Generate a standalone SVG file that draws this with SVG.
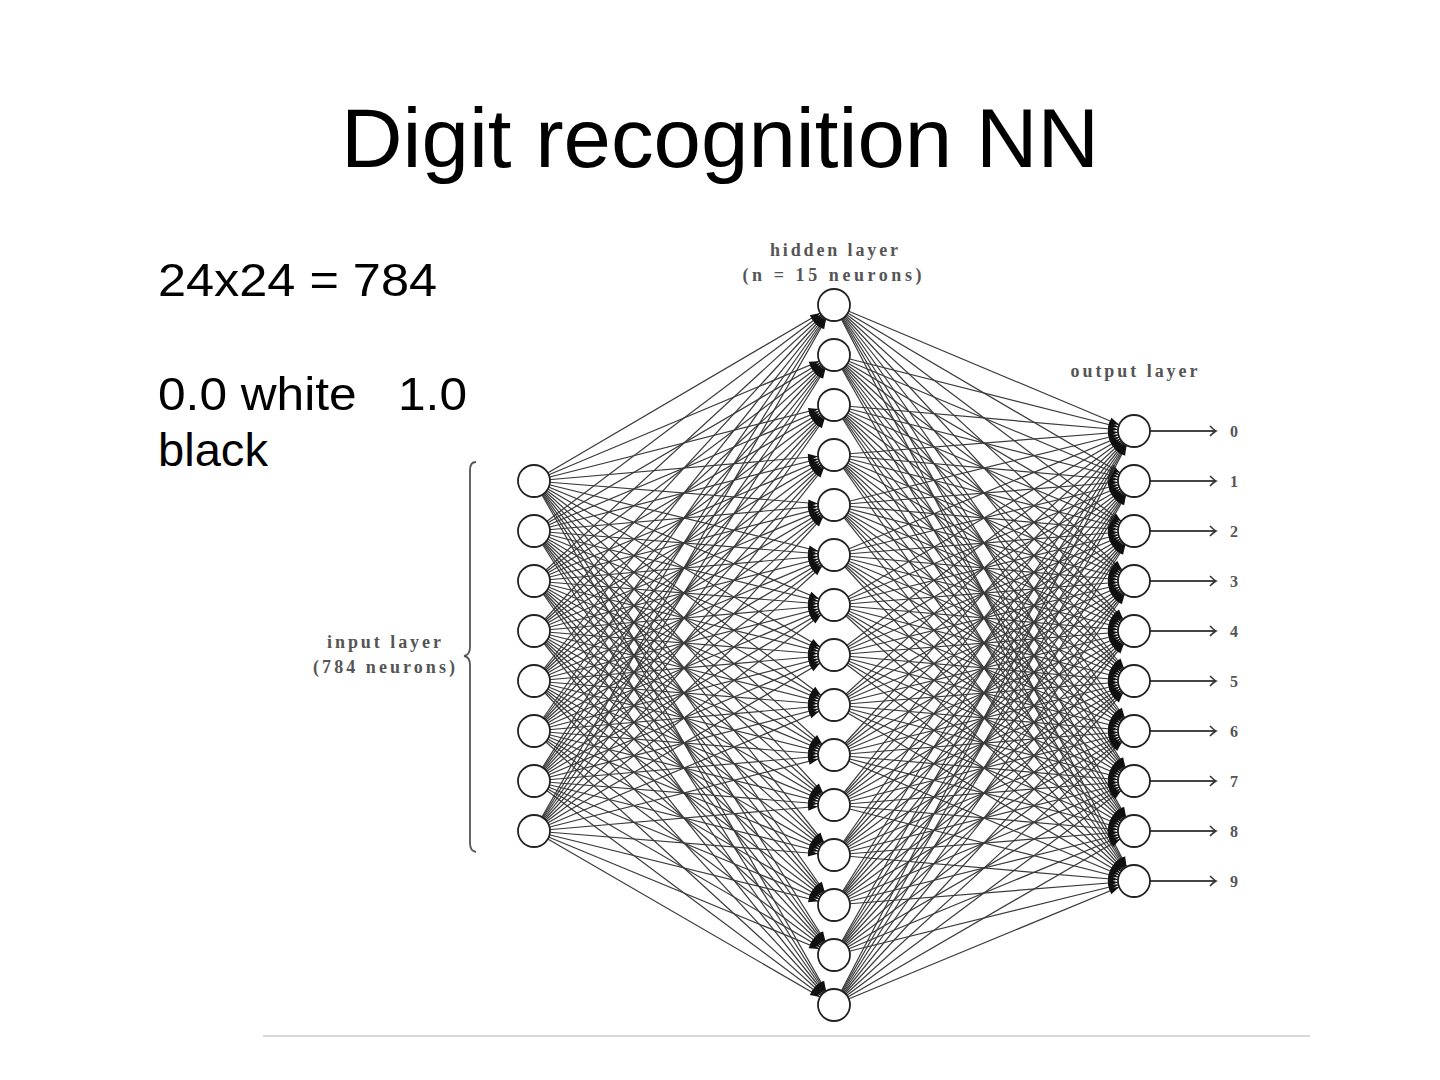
<svg xmlns="http://www.w3.org/2000/svg" width="1440" height="1080" viewBox="0 0 1440 1080">
<style>
.t{font-family:"Liberation Sans",Arial,sans-serif;fill:#000}
.s{font-family:"Liberation Serif","DejaVu Serif",serif;fill:#555;font-size:18px;font-weight:bold;text-anchor:middle}
.n{fill:#fff;stroke:#222;stroke-width:1.8}
.c line{stroke:#3a3a3a;stroke-width:1.2;marker-end:url(#a)}
.o line{stroke:#444;stroke-width:1.8;marker-end:url(#b)}
</style>
<defs>
<marker id="a" markerUnits="userSpaceOnUse" viewBox="0 -4 27 8" markerWidth="27" markerHeight="8" refX="26" refY="0" orient="auto" overflow="visible"><path d="M0,-3.5 L10,0 L0,3.5 Z" fill="#111"/></marker>
<marker id="b" markerUnits="userSpaceOnUse" viewBox="-8 -5 10 10" markerWidth="10" markerHeight="10" refX="0" refY="0" orient="auto" overflow="visible"><path d="M-6,-5 Q-2,-1 0,0 Q-2,1 -6,5" fill="none" stroke="#333" stroke-width="1.6"/></marker>
</defs>
<rect width="1440" height="1080" fill="#fff"/>
<text class="t" x="720" y="167" font-size="84" text-anchor="middle" textLength="758" lengthAdjust="spacingAndGlyphs">Digit recognition NN</text>
<text class="t" x="158" y="296" font-size="47" textLength="279" lengthAdjust="spacingAndGlyphs">24x24 = 784</text>
<text class="t" x="158" y="410" font-size="47" xml:space="preserve" textLength="309" lengthAdjust="spacingAndGlyphs">0.0 white   1.0</text>
<text class="t" x="158" y="466" font-size="47" textLength="110" lengthAdjust="spacingAndGlyphs">black</text>
<text class="s" x="834" y="256" textLength="128" lengthAdjust="spacing">hidden layer</text>
<text class="s" x="832" y="281" textLength="179" lengthAdjust="spacing">(n = 15 neurons)</text>
<text class="s" x="1134" y="377" textLength="127" lengthAdjust="spacing">output layer</text>
<text class="s" x="384" y="648" textLength="114" lengthAdjust="spacing">input layer</text>
<text class="s" x="384" y="673" textLength="142" lengthAdjust="spacing">(784 neurons)</text>
<path d="M476,462 Q470,462 470,470 L470,647 Q470,655 464,656 Q470,657 470,665 L470,843 Q470,851 476,852" fill="none" stroke="#555" stroke-width="1.8"/>
<line x1="263" y1="1036" x2="1310" y2="1036" stroke="#ccc" stroke-width="1.5"/>
<g id="connectors" class="c">
<line x1="534" y1="481" x2="834" y2="305"/><line x1="534" y1="481" x2="834" y2="355"/><line x1="534" y1="481" x2="834" y2="405"/><line x1="534" y1="481" x2="834" y2="455"/><line x1="534" y1="481" x2="834" y2="505"/><line x1="534" y1="481" x2="834" y2="555"/><line x1="534" y1="481" x2="834" y2="605"/><line x1="534" y1="481" x2="834" y2="655"/><line x1="534" y1="481" x2="834" y2="705"/><line x1="534" y1="481" x2="834" y2="755"/><line x1="534" y1="481" x2="834" y2="805"/><line x1="534" y1="481" x2="834" y2="855"/><line x1="534" y1="481" x2="834" y2="905"/><line x1="534" y1="481" x2="834" y2="955"/><line x1="534" y1="481" x2="834" y2="1005"/>
<line x1="534" y1="531" x2="834" y2="305"/><line x1="534" y1="531" x2="834" y2="355"/><line x1="534" y1="531" x2="834" y2="405"/><line x1="534" y1="531" x2="834" y2="455"/><line x1="534" y1="531" x2="834" y2="505"/><line x1="534" y1="531" x2="834" y2="555"/><line x1="534" y1="531" x2="834" y2="605"/><line x1="534" y1="531" x2="834" y2="655"/><line x1="534" y1="531" x2="834" y2="705"/><line x1="534" y1="531" x2="834" y2="755"/><line x1="534" y1="531" x2="834" y2="805"/><line x1="534" y1="531" x2="834" y2="855"/><line x1="534" y1="531" x2="834" y2="905"/><line x1="534" y1="531" x2="834" y2="955"/><line x1="534" y1="531" x2="834" y2="1005"/>
<line x1="534" y1="581" x2="834" y2="305"/><line x1="534" y1="581" x2="834" y2="355"/><line x1="534" y1="581" x2="834" y2="405"/><line x1="534" y1="581" x2="834" y2="455"/><line x1="534" y1="581" x2="834" y2="505"/><line x1="534" y1="581" x2="834" y2="555"/><line x1="534" y1="581" x2="834" y2="605"/><line x1="534" y1="581" x2="834" y2="655"/><line x1="534" y1="581" x2="834" y2="705"/><line x1="534" y1="581" x2="834" y2="755"/><line x1="534" y1="581" x2="834" y2="805"/><line x1="534" y1="581" x2="834" y2="855"/><line x1="534" y1="581" x2="834" y2="905"/><line x1="534" y1="581" x2="834" y2="955"/><line x1="534" y1="581" x2="834" y2="1005"/>
<line x1="534" y1="631" x2="834" y2="305"/><line x1="534" y1="631" x2="834" y2="355"/><line x1="534" y1="631" x2="834" y2="405"/><line x1="534" y1="631" x2="834" y2="455"/><line x1="534" y1="631" x2="834" y2="505"/><line x1="534" y1="631" x2="834" y2="555"/><line x1="534" y1="631" x2="834" y2="605"/><line x1="534" y1="631" x2="834" y2="655"/><line x1="534" y1="631" x2="834" y2="705"/><line x1="534" y1="631" x2="834" y2="755"/><line x1="534" y1="631" x2="834" y2="805"/><line x1="534" y1="631" x2="834" y2="855"/><line x1="534" y1="631" x2="834" y2="905"/><line x1="534" y1="631" x2="834" y2="955"/><line x1="534" y1="631" x2="834" y2="1005"/>
<line x1="534" y1="681" x2="834" y2="305"/><line x1="534" y1="681" x2="834" y2="355"/><line x1="534" y1="681" x2="834" y2="405"/><line x1="534" y1="681" x2="834" y2="455"/><line x1="534" y1="681" x2="834" y2="505"/><line x1="534" y1="681" x2="834" y2="555"/><line x1="534" y1="681" x2="834" y2="605"/><line x1="534" y1="681" x2="834" y2="655"/><line x1="534" y1="681" x2="834" y2="705"/><line x1="534" y1="681" x2="834" y2="755"/><line x1="534" y1="681" x2="834" y2="805"/><line x1="534" y1="681" x2="834" y2="855"/><line x1="534" y1="681" x2="834" y2="905"/><line x1="534" y1="681" x2="834" y2="955"/><line x1="534" y1="681" x2="834" y2="1005"/>
<line x1="534" y1="731" x2="834" y2="305"/><line x1="534" y1="731" x2="834" y2="355"/><line x1="534" y1="731" x2="834" y2="405"/><line x1="534" y1="731" x2="834" y2="455"/><line x1="534" y1="731" x2="834" y2="505"/><line x1="534" y1="731" x2="834" y2="555"/><line x1="534" y1="731" x2="834" y2="605"/><line x1="534" y1="731" x2="834" y2="655"/><line x1="534" y1="731" x2="834" y2="705"/><line x1="534" y1="731" x2="834" y2="755"/><line x1="534" y1="731" x2="834" y2="805"/><line x1="534" y1="731" x2="834" y2="855"/><line x1="534" y1="731" x2="834" y2="905"/><line x1="534" y1="731" x2="834" y2="955"/><line x1="534" y1="731" x2="834" y2="1005"/>
<line x1="534" y1="781" x2="834" y2="305"/><line x1="534" y1="781" x2="834" y2="355"/><line x1="534" y1="781" x2="834" y2="405"/><line x1="534" y1="781" x2="834" y2="455"/><line x1="534" y1="781" x2="834" y2="505"/><line x1="534" y1="781" x2="834" y2="555"/><line x1="534" y1="781" x2="834" y2="605"/><line x1="534" y1="781" x2="834" y2="655"/><line x1="534" y1="781" x2="834" y2="705"/><line x1="534" y1="781" x2="834" y2="755"/><line x1="534" y1="781" x2="834" y2="805"/><line x1="534" y1="781" x2="834" y2="855"/><line x1="534" y1="781" x2="834" y2="905"/><line x1="534" y1="781" x2="834" y2="955"/><line x1="534" y1="781" x2="834" y2="1005"/>
<line x1="534" y1="831" x2="834" y2="305"/><line x1="534" y1="831" x2="834" y2="355"/><line x1="534" y1="831" x2="834" y2="405"/><line x1="534" y1="831" x2="834" y2="455"/><line x1="534" y1="831" x2="834" y2="505"/><line x1="534" y1="831" x2="834" y2="555"/><line x1="534" y1="831" x2="834" y2="605"/><line x1="534" y1="831" x2="834" y2="655"/><line x1="534" y1="831" x2="834" y2="705"/><line x1="534" y1="831" x2="834" y2="755"/><line x1="534" y1="831" x2="834" y2="805"/><line x1="534" y1="831" x2="834" y2="855"/><line x1="534" y1="831" x2="834" y2="905"/><line x1="534" y1="831" x2="834" y2="955"/><line x1="534" y1="831" x2="834" y2="1005"/>
<line x1="834" y1="305" x2="1134" y2="431"/><line x1="834" y1="305" x2="1134" y2="481"/><line x1="834" y1="305" x2="1134" y2="531"/><line x1="834" y1="305" x2="1134" y2="581"/><line x1="834" y1="305" x2="1134" y2="631"/><line x1="834" y1="305" x2="1134" y2="681"/><line x1="834" y1="305" x2="1134" y2="731"/><line x1="834" y1="305" x2="1134" y2="781"/><line x1="834" y1="305" x2="1134" y2="831"/><line x1="834" y1="305" x2="1134" y2="881"/>
<line x1="834" y1="355" x2="1134" y2="431"/><line x1="834" y1="355" x2="1134" y2="481"/><line x1="834" y1="355" x2="1134" y2="531"/><line x1="834" y1="355" x2="1134" y2="581"/><line x1="834" y1="355" x2="1134" y2="631"/><line x1="834" y1="355" x2="1134" y2="681"/><line x1="834" y1="355" x2="1134" y2="731"/><line x1="834" y1="355" x2="1134" y2="781"/><line x1="834" y1="355" x2="1134" y2="831"/><line x1="834" y1="355" x2="1134" y2="881"/>
<line x1="834" y1="405" x2="1134" y2="431"/><line x1="834" y1="405" x2="1134" y2="481"/><line x1="834" y1="405" x2="1134" y2="531"/><line x1="834" y1="405" x2="1134" y2="581"/><line x1="834" y1="405" x2="1134" y2="631"/><line x1="834" y1="405" x2="1134" y2="681"/><line x1="834" y1="405" x2="1134" y2="731"/><line x1="834" y1="405" x2="1134" y2="781"/><line x1="834" y1="405" x2="1134" y2="831"/><line x1="834" y1="405" x2="1134" y2="881"/>
<line x1="834" y1="455" x2="1134" y2="431"/><line x1="834" y1="455" x2="1134" y2="481"/><line x1="834" y1="455" x2="1134" y2="531"/><line x1="834" y1="455" x2="1134" y2="581"/><line x1="834" y1="455" x2="1134" y2="631"/><line x1="834" y1="455" x2="1134" y2="681"/><line x1="834" y1="455" x2="1134" y2="731"/><line x1="834" y1="455" x2="1134" y2="781"/><line x1="834" y1="455" x2="1134" y2="831"/><line x1="834" y1="455" x2="1134" y2="881"/>
<line x1="834" y1="505" x2="1134" y2="431"/><line x1="834" y1="505" x2="1134" y2="481"/><line x1="834" y1="505" x2="1134" y2="531"/><line x1="834" y1="505" x2="1134" y2="581"/><line x1="834" y1="505" x2="1134" y2="631"/><line x1="834" y1="505" x2="1134" y2="681"/><line x1="834" y1="505" x2="1134" y2="731"/><line x1="834" y1="505" x2="1134" y2="781"/><line x1="834" y1="505" x2="1134" y2="831"/><line x1="834" y1="505" x2="1134" y2="881"/>
<line x1="834" y1="555" x2="1134" y2="431"/><line x1="834" y1="555" x2="1134" y2="481"/><line x1="834" y1="555" x2="1134" y2="531"/><line x1="834" y1="555" x2="1134" y2="581"/><line x1="834" y1="555" x2="1134" y2="631"/><line x1="834" y1="555" x2="1134" y2="681"/><line x1="834" y1="555" x2="1134" y2="731"/><line x1="834" y1="555" x2="1134" y2="781"/><line x1="834" y1="555" x2="1134" y2="831"/><line x1="834" y1="555" x2="1134" y2="881"/>
<line x1="834" y1="605" x2="1134" y2="431"/><line x1="834" y1="605" x2="1134" y2="481"/><line x1="834" y1="605" x2="1134" y2="531"/><line x1="834" y1="605" x2="1134" y2="581"/><line x1="834" y1="605" x2="1134" y2="631"/><line x1="834" y1="605" x2="1134" y2="681"/><line x1="834" y1="605" x2="1134" y2="731"/><line x1="834" y1="605" x2="1134" y2="781"/><line x1="834" y1="605" x2="1134" y2="831"/><line x1="834" y1="605" x2="1134" y2="881"/>
<line x1="834" y1="655" x2="1134" y2="431"/><line x1="834" y1="655" x2="1134" y2="481"/><line x1="834" y1="655" x2="1134" y2="531"/><line x1="834" y1="655" x2="1134" y2="581"/><line x1="834" y1="655" x2="1134" y2="631"/><line x1="834" y1="655" x2="1134" y2="681"/><line x1="834" y1="655" x2="1134" y2="731"/><line x1="834" y1="655" x2="1134" y2="781"/><line x1="834" y1="655" x2="1134" y2="831"/><line x1="834" y1="655" x2="1134" y2="881"/>
<line x1="834" y1="705" x2="1134" y2="431"/><line x1="834" y1="705" x2="1134" y2="481"/><line x1="834" y1="705" x2="1134" y2="531"/><line x1="834" y1="705" x2="1134" y2="581"/><line x1="834" y1="705" x2="1134" y2="631"/><line x1="834" y1="705" x2="1134" y2="681"/><line x1="834" y1="705" x2="1134" y2="731"/><line x1="834" y1="705" x2="1134" y2="781"/><line x1="834" y1="705" x2="1134" y2="831"/><line x1="834" y1="705" x2="1134" y2="881"/>
<line x1="834" y1="755" x2="1134" y2="431"/><line x1="834" y1="755" x2="1134" y2="481"/><line x1="834" y1="755" x2="1134" y2="531"/><line x1="834" y1="755" x2="1134" y2="581"/><line x1="834" y1="755" x2="1134" y2="631"/><line x1="834" y1="755" x2="1134" y2="681"/><line x1="834" y1="755" x2="1134" y2="731"/><line x1="834" y1="755" x2="1134" y2="781"/><line x1="834" y1="755" x2="1134" y2="831"/><line x1="834" y1="755" x2="1134" y2="881"/>
<line x1="834" y1="805" x2="1134" y2="431"/><line x1="834" y1="805" x2="1134" y2="481"/><line x1="834" y1="805" x2="1134" y2="531"/><line x1="834" y1="805" x2="1134" y2="581"/><line x1="834" y1="805" x2="1134" y2="631"/><line x1="834" y1="805" x2="1134" y2="681"/><line x1="834" y1="805" x2="1134" y2="731"/><line x1="834" y1="805" x2="1134" y2="781"/><line x1="834" y1="805" x2="1134" y2="831"/><line x1="834" y1="805" x2="1134" y2="881"/>
<line x1="834" y1="855" x2="1134" y2="431"/><line x1="834" y1="855" x2="1134" y2="481"/><line x1="834" y1="855" x2="1134" y2="531"/><line x1="834" y1="855" x2="1134" y2="581"/><line x1="834" y1="855" x2="1134" y2="631"/><line x1="834" y1="855" x2="1134" y2="681"/><line x1="834" y1="855" x2="1134" y2="731"/><line x1="834" y1="855" x2="1134" y2="781"/><line x1="834" y1="855" x2="1134" y2="831"/><line x1="834" y1="855" x2="1134" y2="881"/>
<line x1="834" y1="905" x2="1134" y2="431"/><line x1="834" y1="905" x2="1134" y2="481"/><line x1="834" y1="905" x2="1134" y2="531"/><line x1="834" y1="905" x2="1134" y2="581"/><line x1="834" y1="905" x2="1134" y2="631"/><line x1="834" y1="905" x2="1134" y2="681"/><line x1="834" y1="905" x2="1134" y2="731"/><line x1="834" y1="905" x2="1134" y2="781"/><line x1="834" y1="905" x2="1134" y2="831"/><line x1="834" y1="905" x2="1134" y2="881"/>
<line x1="834" y1="955" x2="1134" y2="431"/><line x1="834" y1="955" x2="1134" y2="481"/><line x1="834" y1="955" x2="1134" y2="531"/><line x1="834" y1="955" x2="1134" y2="581"/><line x1="834" y1="955" x2="1134" y2="631"/><line x1="834" y1="955" x2="1134" y2="681"/><line x1="834" y1="955" x2="1134" y2="731"/><line x1="834" y1="955" x2="1134" y2="781"/><line x1="834" y1="955" x2="1134" y2="831"/><line x1="834" y1="955" x2="1134" y2="881"/>
<line x1="834" y1="1005" x2="1134" y2="431"/><line x1="834" y1="1005" x2="1134" y2="481"/><line x1="834" y1="1005" x2="1134" y2="531"/><line x1="834" y1="1005" x2="1134" y2="581"/><line x1="834" y1="1005" x2="1134" y2="631"/><line x1="834" y1="1005" x2="1134" y2="681"/><line x1="834" y1="1005" x2="1134" y2="731"/><line x1="834" y1="1005" x2="1134" y2="781"/><line x1="834" y1="1005" x2="1134" y2="831"/><line x1="834" y1="1005" x2="1134" y2="881"/>
</g>
<g id="outputs" class="o">
<line x1="1150" y1="431" x2="1216" y2="431"/><line x1="1150" y1="481" x2="1216" y2="481"/><line x1="1150" y1="531" x2="1216" y2="531"/><line x1="1150" y1="581" x2="1216" y2="581"/><line x1="1150" y1="631" x2="1216" y2="631"/><line x1="1150" y1="681" x2="1216" y2="681"/><line x1="1150" y1="731" x2="1216" y2="731"/><line x1="1150" y1="781" x2="1216" y2="781"/><line x1="1150" y1="831" x2="1216" y2="831"/><line x1="1150" y1="881" x2="1216" y2="881"/>
</g>
<g id="output-labels" font-family="Liberation Serif,serif" font-size="16" font-weight="bold" fill="#555" text-anchor="middle">
<text x="1234" y="437">0</text><text x="1234" y="487">1</text><text x="1234" y="537">2</text><text x="1234" y="587">3</text><text x="1234" y="637">4</text><text x="1234" y="687">5</text><text x="1234" y="737">6</text><text x="1234" y="787">7</text><text x="1234" y="837">8</text><text x="1234" y="887">9</text>
</g>
<g id="input-layer">
<circle id="in0" class="n" cx="534" cy="481" r="16"/><circle id="in1" class="n" cx="534" cy="531" r="16"/><circle id="in2" class="n" cx="534" cy="581" r="16"/><circle id="in3" class="n" cx="534" cy="631" r="16"/><circle id="in4" class="n" cx="534" cy="681" r="16"/><circle id="in5" class="n" cx="534" cy="731" r="16"/><circle id="in6" class="n" cx="534" cy="781" r="16"/><circle id="in7" class="n" cx="534" cy="831" r="16"/>
</g>
<g id="hidden-layer">
<circle id="h0" class="n" cx="834" cy="305" r="16"/><circle id="h1" class="n" cx="834" cy="355" r="16"/><circle id="h2" class="n" cx="834" cy="405" r="16"/><circle id="h3" class="n" cx="834" cy="455" r="16"/><circle id="h4" class="n" cx="834" cy="505" r="16"/><circle id="h5" class="n" cx="834" cy="555" r="16"/><circle id="h6" class="n" cx="834" cy="605" r="16"/><circle id="h7" class="n" cx="834" cy="655" r="16"/><circle id="h8" class="n" cx="834" cy="705" r="16"/><circle id="h9" class="n" cx="834" cy="755" r="16"/><circle id="h10" class="n" cx="834" cy="805" r="16"/><circle id="h11" class="n" cx="834" cy="855" r="16"/><circle id="h12" class="n" cx="834" cy="905" r="16"/><circle id="h13" class="n" cx="834" cy="955" r="16"/><circle id="h14" class="n" cx="834" cy="1005" r="16"/>
</g>
<g id="output-layer">
<circle id="o0" class="n" cx="1134" cy="431" r="16"/><circle id="o1" class="n" cx="1134" cy="481" r="16"/><circle id="o2" class="n" cx="1134" cy="531" r="16"/><circle id="o3" class="n" cx="1134" cy="581" r="16"/><circle id="o4" class="n" cx="1134" cy="631" r="16"/><circle id="o5" class="n" cx="1134" cy="681" r="16"/><circle id="o6" class="n" cx="1134" cy="731" r="16"/><circle id="o7" class="n" cx="1134" cy="781" r="16"/><circle id="o8" class="n" cx="1134" cy="831" r="16"/><circle id="o9" class="n" cx="1134" cy="881" r="16"/>
</g>
</svg>
